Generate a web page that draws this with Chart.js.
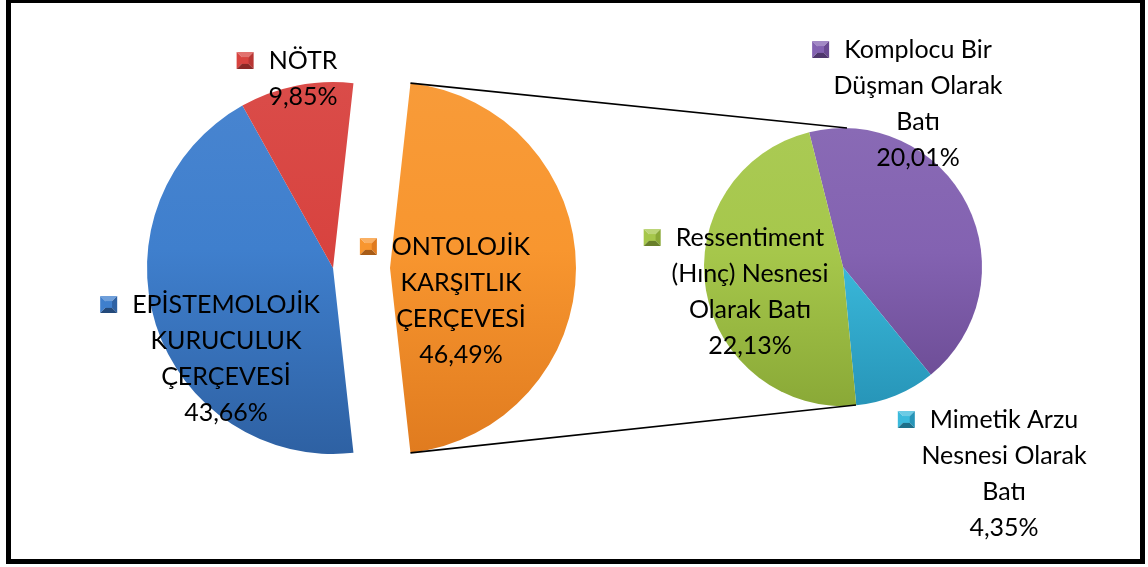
<!DOCTYPE html>
<html>
<head>
<meta charset="utf-8">
<script src="https://cdn.jsdelivr.net/npm/chart.js"></script>
<style>
    html, body { margin: 0; padding: 0; background: #fff; }
    #wrap { position: relative; width: 1148px; height: 567px; overflow: hidden; background: #fff; }
    #wrap canvas { position: absolute; left: 0; top: 0; }
    #frame { position: absolute; left: 6px; top: -2px; width: 1139px; height: 566px; border: 5px solid #000; box-sizing: border-box; }
</style>
</head>
<body>
<div id="wrap">
    <canvas id="mainPie" width="1148" height="567"></canvas>
    <canvas id="subPie" width="1148" height="567"></canvas>
    <div id="frame"></div>
</div>
<script>
// main pie (the orange slice is split out into the small pie)
const mainLabels = ['ONTOLOJİK KARŞITLIK ÇERÇEVESİ', 'EPİSTEMOLOJİK KURUCULUK ÇERÇEVESİ', 'NÖTR'];
const mainValues = [46.49, 43.66, 9.85];

// second pie = breakdown of ONTOLOJİK KARŞITLIK ÇERÇEVESİ
const subLabels = ['Komplocu Bir Düşman Olarak Batı', 'Mimetik Arzu Nesnesi Olarak Batı', 'Ressentiment (Hınç) Nesnesi Olarak Batı'];
const subValues = [20.01, 4.35, 22.13];

// how the labels wrap
const mainLabelLines = [['ONTOLOJİK', 'KARŞITLIK', 'ÇERÇEVESİ'], ['EPİSTEMOLOJİK', 'KURUCULUK', 'ÇERÇEVESİ'], ['NÖTR']];
const subLabelLines = [['Komplocu Bir', 'Düşman Olarak', 'Batı'], ['Mimetik Arzu', 'Nesnesi Olarak', 'Batı'], ['Ressentiment', '(Hınç) Nesnesi', 'Olarak Batı']];

// styling / layout
const mainColors = [['#f8962f', '#e07b1f'], ['#3f7fcd', '#2e61a3'], ['#d8433f', '#b93633']];
const subColors = [['#8362b1', '#694991'], ['#3bbadc', '#2795b8'], ['#a6c74b', '#8aa937']];
const mainRadius = 186;
const subRadius = 139;
const explodeOffsets = [57, 0, 0];
const subRotation = -14.1;
const mainLabelPos = [{ cx: 461, base: 255 }, { cx: 226, base: 313 }, { cx: 303, base: 69 }];
const subLabelPos = [{ cx: 918, base: 58 }, { cx: 1004, base: 428 }, { cx: 750, base: 246 }];
const lineStep = 36;
const labelFont = '25px Lato';

function pct(v) {
    return v.toFixed(2).replace('.', ',') + '%';
}

function mix(hex, target, t) {
    let c = parseInt(hex.slice(1), 16);
    let r = (c >> 16) & 255, g = (c >> 8) & 255, b = c & 255;
    r = Math.round(r + (target - r) * t);
    g = Math.round(g + (target - g) * t);
    b = Math.round(b + (target - b) * t);
    return `rgb(${r},${g},${b})`;
}

function vGrad(chart, pair, radius) {
    const a = chart.chartArea;
    if (!a) return pair[0];
    const cy = (a.top + a.bottom) / 2;
    const g = chart.ctx.createLinearGradient(0, cy - radius, 0, cy + radius);
    g.addColorStop(0, mix(pair[0], 255, 0.05));
    g.addColorStop(0.45, pair[0]);
    g.addColorStop(1, pair[1]);
    return g;
}

// draw the arcs ourselves so one slice can be pulled out without growing it
const explodePlugin = {
    id: 'explode',
    beforeDatasetDraw(chart, args, opts) {
        const ctx = chart.ctx;
        const offsets = opts.offsets || [];
        args.meta.data.forEach((arc, i) => {
            ctx.save();
            const d = offsets[i] || 0;
            if (d) {
                const mid = (arc.startAngle + arc.endAngle) / 2;
                ctx.translate(Math.cos(mid) * d, Math.sin(mid) * d);
            }
            arc.draw(ctx);
            ctx.restore();
        });
        return false;
    }
};

function drawKey(ctx, x, y, s, pair) {
    const cx = x + s / 2, cy = y + s / 2;
    const tri = (pts, col) => {
        ctx.beginPath();
        ctx.moveTo(pts[0], pts[1]);
        ctx.lineTo(pts[2], pts[3]);
        ctx.lineTo(cx, cy);
        ctx.closePath();
        ctx.fillStyle = col;
        ctx.fill();
    };
    ctx.save();
    tri([x, y, x + s, y], mix(pair[0], 255, 0.25));
    tri([x, y, x, y + s], pair[0]);
    tri([x + s, y, x + s, y + s], pair[1]);
    tri([x, y + s, x + s, y + s], mix(pair[1], 0, 0.25));
    ctx.fillStyle = pair[0];
    ctx.fillRect(x + s * 0.3, y + s * 0.3, s * 0.4, s * 0.4);
    ctx.restore();
}

const labelPlugin = {
    id: 'sliceLabels',
    afterDatasetsDraw(chart, args, opts) {
        const ctx = chart.ctx;
        const values = chart.data.datasets[0].data;
        ctx.save();
        ctx.font = labelFont;
        ctx.textAlign = 'center';
        ctx.textBaseline = 'alphabetic';
        opts.lines.forEach((lines, i) => {
            const pos = opts.pos[i];
            const all = lines.concat([pct(values[i])]);
            const w = ctx.measureText(all[0]).width;
            const ks = 17;
            drawKey(ctx, pos.cx - w / 2 - 15 - ks, pos.base - 17, ks, opts.colors[i]);
            ctx.fillStyle = '#000';
            all.forEach((t, j) => {
                ctx.fillText(t, pos.cx, pos.base + j * lineStep);
            });
        });
        ctx.restore();
    }
};

let mainChart;

const connectorPlugin = {
    id: 'connector',
    afterDatasetsDraw(chart) {
        const arc = mainChart.getDatasetMeta(0).data[0];
        const d = explodeOffsets[0];
        const mid = (arc.startAngle + arc.endAngle) / 2;
        const ox = arc.x + Math.cos(mid) * d;
        const oy = arc.y + Math.sin(mid) * d;
        const R = arc.outerRadius;
        const sub = chart.getDatasetMeta(0).data[0];
        const ctx = chart.ctx;
        ctx.save();
        ctx.strokeStyle = '#000';
        ctx.lineWidth = 1.6;
        ctx.beginPath();
        ctx.moveTo(ox + Math.cos(arc.startAngle) * R, oy + Math.sin(arc.startAngle) * R);
        ctx.lineTo(sub.x + 4, sub.y - sub.outerRadius);
        ctx.moveTo(ox + Math.cos(arc.endAngle) * R, oy + Math.sin(arc.endAngle) * R);
        ctx.lineTo(sub.x + 13, sub.y + sub.outerRadius - 1);
        ctx.stroke();
        ctx.restore();
    }
};

function initCharts() {
    const mainTotal = mainValues.reduce((a, b) => a + b, 0);
    // centre the pulled-out slice on the right-hand side
    const mainRotation = 90 - (mainValues[0] / mainTotal) * 180;

    mainChart = new Chart(document.getElementById('mainPie'), {
        type: 'pie',
        data: {
            labels: mainLabels,
            datasets: [{
                data: mainValues,
                backgroundColor: (c) => vGrad(c.chart, mainColors[c.dataIndex], mainRadius),
                borderWidth: 0
            }]
        },
        options: {
            responsive: false,
            animation: false,
            radius: mainRadius,
            rotation: mainRotation,
            layout: { padding: { left: 0, top: 0, right: 482, bottom: 31 } },
            plugins: {
                legend: { display: false },
                tooltip: { enabled: false },
                explode: { offsets: explodeOffsets },
                sliceLabels: { lines: mainLabelLines, pos: mainLabelPos, colors: mainColors }
            }
        },
        plugins: [explodePlugin, labelPlugin]
    });

    new Chart(document.getElementById('subPie'), {
        type: 'pie',
        data: {
            labels: subLabels,
            datasets: [{
                data: subValues,
                backgroundColor: (c) => vGrad(c.chart, subColors[c.dataIndex], subRadius),
                borderWidth: 0
            }]
        },
        options: {
            responsive: false,
            animation: false,
            radius: subRadius,
            rotation: subRotation,
            layout: { padding: { left: 704, top: 128, right: 166, bottom: 161 } },
            plugins: {
                legend: { display: false },
                tooltip: { enabled: false },
                explode: { offsets: [] },
                sliceLabels: { lines: subLabelLines, pos: subLabelPos, colors: subColors }
            }
        },
        plugins: [explodePlugin, connectorPlugin, labelPlugin]
    });
}

window.addEventListener('load', initCharts);
</script>
</body>
</html>
